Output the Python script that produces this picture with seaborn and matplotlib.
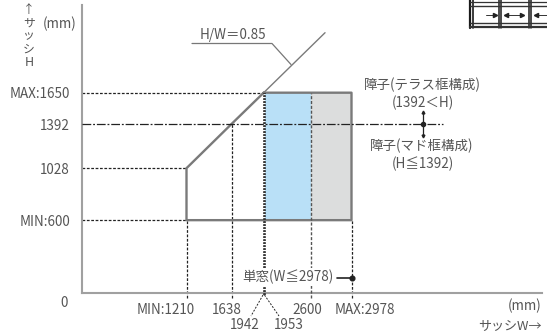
import numpy as np
import matplotlib
matplotlib.use("Agg")
import matplotlib.pyplot as plt
import seaborn as sns

W_PX, H_PX = 547, 336

# chart values (mm)
w_min = 1210
w_a = 1638
w_b = 1942
w_c = 1953
w_d = 2600
w_max = 2978
h_min = 600
h_low = 1028
h_mid = 1392
h_max = 1650

outline_w = [1942, 2978, 2978, 1210, 1210, 1638, 1942]
outline_h = [1650, 1650, 600, 600, 1028, 1392, 1650]
ratio_w = [1942, 2731]
ratio_h = [1650, 2144]

x_ticks = [1210, 1638, 2600, 2978]
x_labels = ["MIN:1210", "1638", "2600", "MAX:2978"]
x_label_dx = [-20.5, -5, -4, 13.5]
y_ticks = [600, 1028, 1392, 1650]
y_labels = ["MIN:600", "1028", "1392", "MAX:1650"]

# the width axis of the drawing is not to scale
knot_mm = np.array([0, 1210, 1638, 1942, 1953, 2600, 2978, 4800])
knot_pos = np.array([0, 104.5, 149.5, 181.7, 183.2, 229, 269.5, 460])

sns.set_theme(style="white")
plt.rcParams["font.family"] = ["Noto Sans CJK JP", "DejaVu Sans"]
TXT = "#555555"
LINE = "#222222"
FS = 9.7

fig = plt.figure(figsize=(W_PX / 100, H_PX / 100), dpi=100)
ax = fig.add_axes([82 / W_PX, 1 - 293 / H_PX, 460 / W_PX, 288 / H_PX])
ax.set_xscale("function", functions=(lambda v: np.interp(v, knot_mm, knot_pos),
                                     lambda v: np.interp(v, knot_pos, knot_mm)))
ax.set_xlim(0, 4800)
ax.set_ylim(0, 288 / 0.1214)
ax.patch.set_alpha(0)


def px(x, y):
    return x / W_PX, 1 - y / H_PX


def fig_line(xs, ys, **kw):
    pts = [px(a, b) for a, b in zip(xs, ys)]
    fig.add_artist(plt.Line2D([p[0] for p in pts], [p[1] for p in pts],
                              transform=fig.transFigure, **kw))


def fig_text(x, y, s, **kw):
    a, b = px(x, y)
    kw.setdefault("color", TXT)
    kw.setdefault("fontsize", FS)
    kw.setdefault("ha", "center")
    kw.setdefault("va", "center")
    return fig.text(a, b, s, **kw)


# filled zones
ax.axvspan(w_c, w_d, ymin=h_min / ax.get_ylim()[1], ymax=h_max / ax.get_ylim()[1],
           color="#b9e0f7", lw=0, zorder=1)
ax.axvspan(w_d, w_max, ymin=h_min / ax.get_ylim()[1], ymax=h_max / ax.get_ylim()[1],
           color="#dcdddd", lw=0, zorder=1)

# outline and the H/W line
sns.lineplot(x=outline_w, y=outline_h, sort=False, estimator=None, color="#7a7a7a",
             lw=1.7, ax=ax, zorder=3)
sns.lineplot(x=ratio_w, y=ratio_h, sort=False, estimator=None, color="#7a7a7a",
             lw=1.0, ax=ax, zorder=3)

# guides to the axes
dash = (0, (2.2, 1.3))
x_stub = -70
for h, w in [(h_max, w_b), (h_low, w_min), (h_min, w_min)]:
    ax.plot([x_stub, w], [h, h], color=LINE, lw=0.9, ls=dash, clip_on=False, zorder=2)
ax.plot([x_stub, 3853], [h_mid, h_mid], color=LINE, lw=0.9,
        ls=(0, (7, 1.5, 1.5, 1.5)), clip_on=False, zorder=4)
y_stub = -45
for w, h in [(w_min, h_min), (w_a, h_mid), (w_max, h_min)]:
    ax.plot([w, w], [y_stub, h], color=LINE, lw=0.9, ls=dash, clip_on=False, zorder=2)
ax.plot([w_d, w_d], [y_stub, h_max], color="#555555", lw=1.0, ls=dash, clip_on=False, zorder=4)
for w in (w_b, w_c):
    ax.plot([w, w], [-20, h_max], color="#333333", lw=1.2, ls=(0, (1.1, 0.7)),
            clip_on=False, zorder=4)

# axes
for side in ("top", "right"):
    ax.spines[side].set_visible(False)
for side in ("left", "bottom"):
    ax.spines[side].set_color("#a0a0a0")
    ax.spines[side].set_linewidth(1.5)
ax.set_xticks([])
ax.set_yticks(y_ticks, y_labels, color=TXT, fontsize=FS)
ax.tick_params(axis="y", length=0, pad=8.6)
ax.set_xlabel("")
ax.set_ylabel("")
for w, lab, dx in zip(x_ticks, x_labels, x_label_dx):
    ax.annotate(lab, (w, 0), xytext=(dx, -17), textcoords="offset pixels", color=TXT,
                fontsize=FS, ha="center", va="center", annotation_clip=False)
fig_text(64, 303, "0")

# labels under the axis with leaders
fig_line([263, 251], [295, 316], color=LINE, lw=0.7, ls=(0, (2, 1.5)))
fig_line([264.5, 279], [295, 316], color=LINE, lw=0.7, ls=(0, (2, 1.5)))
fig_text(245, 325, "1942")
fig_text(288.5, 325, "1953")

# axis names, stacked by hand
fig_text(29, 10, "↑", fontsize=8.5)
for yy, ch in zip([23, 36, 49], ["サ", "ッ", "シ"]):
    fig_text(29, yy, ch, fontsize=8.5)
fig_text(29, 63, "H", fontsize=9)
fig_text(60, 24, "(mm)")
fig_text(525, 306, "(mm)")
fig_text(510, 326, "サッシW→", fontsize=9.4)

# H/W leader
fig_text(233, 35, "H/W＝0.85")
fig_line([192, 272, 291], [43.5, 43.5, 64.5], color="#777777", lw=0.9)

# right side notes
fig_text(422, 85, "障子(テラス框構成)")
fig_text(423, 103, "(1392＜H)")
fig_text(422, 146, "障子(マド框構成)")
fig_text(423, 164, "(H≦1392)")
fig_line([423, 423], [112, 136], color=LINE, lw=0.9)
fig_line([423], [124], color=LINE, marker="o", ms=3)
fig_line([423], [112], color=LINE, marker="^", ms=2)
fig_line([423], [136], color=LINE, marker="v", ms=2)

# single window note
fig_text(287.5, 277, "単窓(W≦2978)", zorder=5,
         bbox=dict(facecolor="white", edgecolor="none", pad=1.5))
fig_line([337, 352], [277.5, 277.5], color=LINE, lw=1.2)
fig_line([352], [277.5], color=LINE, marker="o", ms=3.4)

# cropped window sketch in the corner
for x, lw in [(470, 1.6), (473, 1.2), (498.5, 1.1), (501, 1.1), (528.5, 1.1), (531, 1.1)]:
    fig_line([x, x], [0, 27.5], color="#1a1a1a", lw=lw)
for y, lw in [(1.5, 0.9), (6, 1.0), (23, 1.0), (26.5, 1.6)]:
    fig_line([470, 547], [y, y], color="#333333", lw=lw)
for a, b in [(486, 496), (505, 523), (535, 547)]:
    fig_line([a, b], [14.5, 14.5], color="#333333", lw=0.7)
for x, mark in [(495, ">"), (506, "<"), (522, ">"), (536, "<")]:
    fig_line([x], [14.5], color="#222222", marker=mark, ms=3)

fig.savefig("out.png", dpi=100, facecolor="white")
